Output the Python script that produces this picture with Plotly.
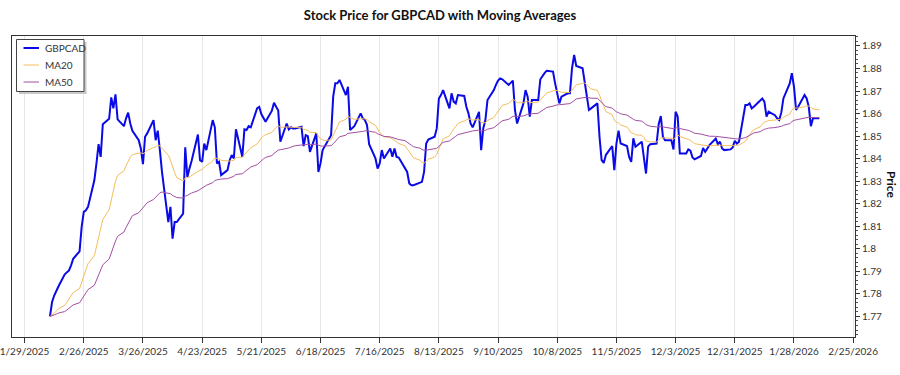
import pandas as pd
import plotly.graph_objects as go

# ---- data ----
start_date = "2025-02-10"
price = [
    1.7700, 1.7764, 1.7793, 1.7816, 1.7833,
    1.7887, 1.7897, 1.7904, 1.7927, 1.7956,
    1.7989, 1.8097, 1.8164, 1.8171, 1.8186,
    1.8304, 1.8379, 1.8464, 1.8408, 1.8553,
    1.8577, 1.8672, 1.8623, 1.8685, 1.8574,
    1.8544, 1.8579, 1.8604, 1.8556, 1.8524,
    1.8482, 1.8445, 1.8376, 1.8497, 1.8512,
    1.8571, 1.8482, 1.8524, 1.8438, 1.8341,
    1.8119, 1.8186, 1.8045, 1.8119, 1.8119,
    1.8156, 1.8450, 1.8319, 1.8356, 1.8390,
    1.8507, 1.8393, 1.8386, 1.8467, 1.8438,
    1.8571, 1.8539, 1.8379, 1.8386, 1.8327,
    1.8349, 1.8393, 1.8416, 1.8401, 1.8530,
    1.8408, 1.8530, 1.8527, 1.8544, 1.8539,
    1.8623, 1.8630, 1.8598, 1.8579, 1.8564,
    1.8613, 1.8648, 1.8630, 1.8613, 1.8475,
    1.8556, 1.8530, 1.8539, 1.8534, 1.8534,
    1.8541, 1.8456, 1.8504, 1.8500, 1.8430,
    1.8512, 1.8341, 1.8379, 1.8438, 1.8456,
    1.8504, 1.8675, 1.8734, 1.8734, 1.8749,
    1.8682, 1.8719, 1.8527, 1.8534, 1.8544,
    1.8601, 1.8579, 1.8571, 1.8549, 1.8464,
    1.8401, 1.8356, 1.8379, 1.8438, 1.8401,
    1.8445, 1.8408, 1.8445, 1.8408, 1.8405,
    1.8356, 1.8341, 1.8290, 1.8282, 1.8282,
    1.8293, 1.8297, 1.8341, 1.8467, 1.8485,
    1.8497, 1.8534, 1.8667, 1.8682, 1.8704,
    1.8623, 1.8690, 1.8653, 1.8645, 1.8682,
    1.8678, 1.8630, 1.8601, 1.8556, 1.8539,
    1.8608, 1.8438, 1.8534, 1.8571, 1.8660,
    1.8704, 1.8727, 1.8746, 1.8756, 1.8752,
    1.8727, 1.8737, 1.8746, 1.8616, 1.8556,
    1.8645, 1.8704, 1.8675, 1.8586, 1.8660,
    1.8660, 1.8752, 1.8767, 1.8779, 1.8790,
    1.8786, 1.8734, 1.8682, 1.8645, 1.8675,
    1.8690, 1.8690, 1.8801, 1.8860, 1.8811,
    1.8801, 1.8741, 1.8667, 1.8616, 1.8623,
    1.8645, 1.8497, 1.8393, 1.8381, 1.8416,
    1.8456, 1.8349, 1.8467, 1.8524, 1.8467,
    1.8456, 1.8408, 1.8386, 1.8490, 1.8453,
    1.8475, 1.8401, 1.8334, 1.8453, 1.8464,
    1.8467, 1.8553, 1.8589, 1.8497, 1.8482,
    1.8482, 1.8441, 1.8608, 1.8586, 1.8423,
    1.8423, 1.8441, 1.8435, 1.8405, 1.8397,
    1.8412, 1.8447, 1.8430, 1.8445, 1.8460,
    1.8489, 1.8464, 1.8475, 1.8445, 1.8438,
    1.8441, 1.8450, 1.8479, 1.8467, 1.8475,
    1.8638, 1.8638, 1.8645, 1.8623, 1.8630,
    1.8660, 1.8667, 1.8653, 1.8586, 1.8608,
    1.8593, 1.8579, 1.8571, 1.8604, 1.8667,
    1.8734, 1.8779, 1.8719, 1.8616, 1.8630,
    1.8682, 1.8667, 1.8630, 1.8544, 1.8579,
    1.8579,
]
x_tick_labels = ["1/29/2025", "2/26/2025", "3/26/2025", "4/23/2025", "5/21/2025",
                 "6/18/2025", "7/16/2025", "8/13/2025", "9/10/2025", "10/8/2025",
                 "11/5/2025", "12/3/2025", "12/31/2025", "1/28/2026", "2/25/2026"]
y_tick_values = [1.77, 1.78, 1.79, 1.80, 1.81, 1.82, 1.83, 1.84, 1.85, 1.86, 1.87, 1.88, 1.89]
series_names = ["GBPCAD", "MA20", "MA50"]
series_colors = ["#0a0ae6", "#f5bd5c", "#a24fa2"]
series_widths = [2, 1, 1]

dates = pd.bdate_range(start_date, periods=len(price))
s = pd.Series(price, index=dates)
# the averages in the picture start at the first price and lag like exponential averages
ma20 = s.ewm(span=20, adjust=False).mean()
ma50 = s.ewm(span=50, adjust=False).mean()

tick_dates = pd.to_datetime(x_tick_labels, format="%m/%d/%Y")

FONT = "Lato, Noto Sans, sans-serif"
W, H = 900, 375
ML, MR, MT, MB = 12, 45, 36, 38
PW, PH = W - ML - MR, H - MT - MB


def px(x):  # pixel -> paper x
    return (x - ML) / PW


def py(y):  # pixel -> paper y
    return (H - MB - y) / PH


fig = go.Figure()
for name, yv, col, wd in zip(series_names, [s.values, ma20.values, ma50.values],
                             series_colors, series_widths):
    fig.add_trace(go.Scatter(x=dates, y=yv, name=name, mode="lines",
                             line=dict(color=col, width=wd), showlegend=False))

fig.update_layout(
    width=W, height=H,
    margin=dict(l=ML, r=MR, t=MT, b=MB, autoexpand=False),
    paper_bgcolor="white", plot_bgcolor="white",
    font=dict(family=FONT, size=10, color="#222"),
    title=dict(text="<b>Stock Price for GBPCAD with Moving Averages</b>",
               x=440 / W, xanchor="center", y=1 - 15 / H, yanchor="middle",
               yref="container", font=dict(size=13, color="#111")),
    showlegend=False,
)
fig.update_xaxes(
    type="date", automargin=False, ticklabeloverflow="allow",
    range=[pd.Timestamp("2025-01-23 01:00"), pd.Timestamp("2026-02-25 21:00")],
    tickmode="array", tickvals=tick_dates, ticktext=x_tick_labels,
    showgrid=True, gridcolor="#e6e6e6", gridwidth=1,
    showline=True, linecolor="#333", linewidth=1, mirror=True,
    ticks="outside", ticklen=5, tickcolor="#333",
    tickfont=dict(size=10, color="#333"), zeroline=False,
)
fig.update_yaxes(
    side="right", automargin=False, ticklabeloverflow="allow", range=[1.7609, 1.8944],
    tickmode="array", tickvals=y_tick_values,
    showgrid=False, zeroline=False,
    showline=True, linecolor="#333", linewidth=1, mirror=True,
    ticks="outside", ticklen=4, tickcolor="#333",
    tickfont=dict(size=10, color="#333"),
    minor=dict(dtick=0.002, ticks="outside", ticklen=2, tickcolor="#555", showgrid=False),
)
fig.add_annotation(text="<b>Price</b>", xref="paper", yref="paper",
                   x=px(892), y=py(185), xanchor="center", yanchor="middle",
                   showarrow=False, textangle=90,
                   font=dict(size=12, color="#111"))

# custom legend box (shadow + frame), samples and labels
fig.add_shape(type="rect", xref="paper", yref="paper",
              x0=px(19), x1=px(86.5), y0=py(42), y1=py(94),
              line=dict(width=0), fillcolor="#c8c8c8", layer="above")
fig.add_shape(type="rect", xref="paper", yref="paper",
              x0=px(16.5), x1=px(84), y0=py(39.5), y1=py(91.5),
              line=dict(color="#444", width=1), fillcolor="white", layer="above")
row_y = [48, 65, 82]
for name, col, wd, ry in zip(series_names, series_colors, series_widths, row_y):
    fig.add_shape(type="line", xref="paper", yref="paper",
                  x0=px(23.5), x1=px(39), y0=py(ry), y1=py(ry),
                  line=dict(color=col, width=wd), layer="above")
    fig.add_annotation(text=name, xref="paper", yref="paper",
                       x=px(42.5), y=py(ry), xanchor="left", yanchor="middle",
                       showarrow=False, font=dict(size=10, color="#333"))

# remove the page's default body margin so the figure sits at the window origin
fig.write_html("out.html", config={"displayModeBar": False},
               post_script="document.body.style.margin='0px';")
